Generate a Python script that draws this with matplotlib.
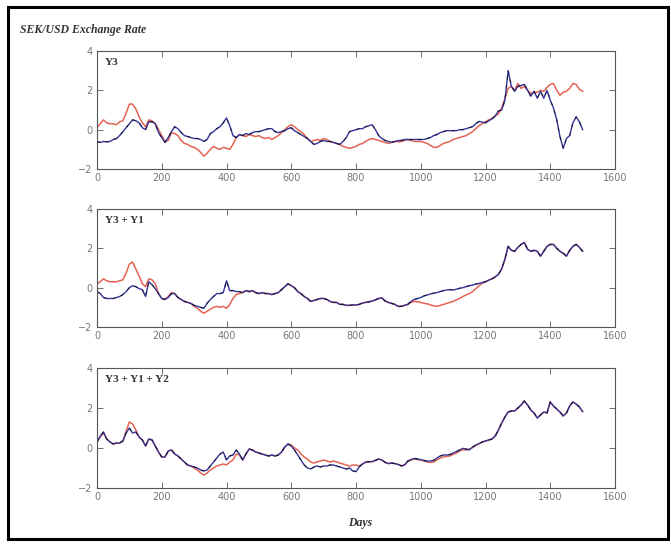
import numpy as np
import matplotlib
matplotlib.use("Agg")
from matplotlib import pyplot as plt
from matplotlib.patches import Rectangle

days = np.arange(0, 1501, 10)

# panel 1: Y3
y3_red = [0.1, 0.3, 0.5, 0.35, 0.3, 0.3, 0.25, 0.4, 0.45, 0.85,
          1.3, 1.3, 1.05, 0.65, 0.35, 0.15, 0.5, 0.45, 0.3, 0.0,
          -0.3, -0.6, -0.55, -0.15, -0.2, -0.3, -0.55, -0.7, -0.75, -0.85,
          -0.9, -1.0, -1.15, -1.35, -1.2, -1.0, -0.85, -0.95, -1.0, -0.9,
          -0.95, -1.0, -0.75, -0.4, -0.25, -0.3, -0.35, -0.25, -0.3, -0.35,
          -0.3, -0.4, -0.45, -0.4, -0.5, -0.4, -0.3, -0.15, 0.0, 0.15,
          0.25, 0.15, 0.0, -0.1, -0.25, -0.45, -0.6, -0.55, -0.5, -0.55,
          -0.45, -0.5, -0.6, -0.65, -0.7, -0.75, -0.85, -0.9, -0.95, -0.9,
          -0.85, -0.75, -0.7, -0.6, -0.5, -0.45, -0.5, -0.55, -0.6, -0.65,
          -0.7, -0.65, -0.6, -0.62, -0.6, -0.55, -0.5, -0.55, -0.6, -0.6,
          -0.6, -0.65, -0.7, -0.8, -0.9, -0.9, -0.8, -0.7, -0.65, -0.6,
          -0.5, -0.45, -0.4, -0.35, -0.3, -0.2, -0.1, 0.05, 0.2, 0.3,
          0.4, 0.5, 0.55, 0.7, 0.8, 1.1, 1.6, 2.1, 2.2, 2.0,
          2.35, 2.1, 2.2, 2.0, 1.85, 1.9, 1.9, 2.0, 1.95, 2.15,
          2.3, 2.35, 2.0, 1.75, 1.9, 1.95, 2.1, 2.35, 2.3, 2.05,
          1.95]
y3_blue = [-0.6, -0.65, -0.6, -0.62, -0.6, -0.5, -0.45, -0.3, -0.1, 0.1,
           0.3, 0.5, 0.45, 0.35, 0.1, 0.0, 0.4, 0.4, 0.3, -0.15,
           -0.4, -0.65, -0.4, -0.1, 0.15, 0.05, -0.15, -0.3, -0.35, -0.4,
           -0.45, -0.45, -0.5, -0.6, -0.5, -0.2, -0.1, 0.05, 0.15, 0.35,
           0.6, 0.2, -0.3, -0.4, -0.25, -0.3, -0.2, -0.25, -0.15, -0.1,
           -0.1, -0.05, 0.0, 0.05, 0.05, -0.1, -0.15, -0.1, -0.05, 0.05,
           0.1, -0.05, -0.15, -0.25, -0.35, -0.45, -0.6, -0.75, -0.7, -0.6,
           -0.55, -0.6, -0.6, -0.65, -0.7, -0.75, -0.6, -0.4, -0.1, -0.05,
           0.0, 0.05, 0.05, 0.15, 0.2, 0.25, 0.0, -0.3, -0.45, -0.55,
           -0.6, -0.65, -0.6, -0.55, -0.55, -0.5, -0.5, -0.5, -0.5, -0.5,
           -0.5, -0.5, -0.45, -0.4, -0.3, -0.25, -0.15, -0.1, -0.05, -0.05,
           -0.05, -0.05, 0.0, 0.0, 0.05, 0.1, 0.15, 0.3, 0.42, 0.38,
           0.35, 0.45, 0.55, 0.7, 0.95, 1.0, 1.5, 3.0, 2.2, 1.95,
           2.2, 2.25, 2.3, 2.0, 1.7, 1.95, 1.6, 1.95, 1.6, 2.0,
           1.5, 1.1, 0.5, -0.35, -0.95, -0.45, -0.3, 0.35, 0.65, 0.4,
           0.0]

# panel 2: Y3 + Y1
y31_red = [0.2, 0.3, 0.45, 0.35, 0.3, 0.3, 0.3, 0.35, 0.4, 0.75,
           1.2, 1.3, 0.95, 0.6, 0.2, 0.05, 0.45, 0.4, 0.2, -0.3,
           -0.55, -0.6, -0.45, -0.25, -0.3, -0.5, -0.6, -0.7, -0.75, -0.8,
           -0.95, -1.05, -1.2, -1.3, -1.2, -1.1, -1.0, -0.95, -1.0, -0.95,
           -1.05, -0.85, -0.55, -0.35, -0.3, -0.25, -0.15, -0.2, -0.15, -0.25,
           -0.3, -0.25, -0.3, -0.3, -0.35, -0.3, -0.25, -0.1, 0.05, 0.2,
           0.1, 0.0, -0.2, -0.3, -0.45, -0.55, -0.7, -0.65, -0.6, -0.55,
           -0.55, -0.6, -0.7, -0.75, -0.75, -0.85, -0.85, -0.9, -0.9, -0.88,
           -0.88, -0.85, -0.78, -0.75, -0.72, -0.68, -0.62, -0.55, -0.52, -0.68,
           -0.75, -0.8, -0.85, -0.95, -0.95, -0.9, -0.85, -0.75, -0.7, -0.72,
           -0.75, -0.8, -0.82, -0.88, -0.92, -0.95, -0.9, -0.85, -0.8, -0.75,
           -0.7, -0.62, -0.55, -0.45, -0.37, -0.3, -0.2, -0.05, 0.1, 0.22,
           0.3, 0.38, 0.45, 0.55, 0.68, 0.95, 1.45, 2.1, 1.9, 1.85,
           2.05, 2.2, 2.3, 1.95, 1.85, 1.9, 1.85, 1.6, 1.85, 2.1,
           2.2, 2.2, 2.0, 1.85, 1.75, 1.6, 1.9, 2.1, 2.2, 2.05,
           1.85]
y31_blue = [-0.2, -0.3, -0.5, -0.55, -0.55, -0.55, -0.5, -0.45, -0.35, -0.2,
            0.0, 0.1, 0.05, -0.05, -0.1, -0.45, 0.3, 0.15, -0.05, -0.3,
            -0.55, -0.6, -0.5, -0.3, -0.3, -0.5, -0.6, -0.7, -0.75, -0.8,
            -0.9, -0.95, -1.0, -1.05, -0.8, -0.6, -0.45, -0.3, -0.3, -0.25,
            0.35, -0.15, -0.15, -0.2, -0.2, -0.25, -0.15, -0.2, -0.15, -0.25,
            -0.3, -0.25, -0.3, -0.3, -0.35, -0.3, -0.25, -0.1, 0.05, 0.2,
            0.1, 0.0, -0.2, -0.3, -0.45, -0.55, -0.7, -0.65, -0.6, -0.55,
            -0.55, -0.6, -0.7, -0.75, -0.75, -0.85, -0.85, -0.9, -0.9, -0.88,
            -0.88, -0.85, -0.78, -0.75, -0.72, -0.68, -0.62, -0.55, -0.52, -0.68,
            -0.75, -0.8, -0.85, -0.95, -0.95, -0.9, -0.85, -0.7, -0.6, -0.55,
            -0.5, -0.42, -0.37, -0.32, -0.28, -0.25, -0.2, -0.15, -0.12, -0.1,
            -0.12, -0.08, -0.03, 0.0, 0.05, 0.1, 0.13, 0.18, 0.22, 0.26,
            0.3, 0.38, 0.45, 0.55, 0.68, 0.95, 1.45, 2.1, 1.9, 1.85,
            2.05, 2.2, 2.3, 1.95, 1.85, 1.9, 1.85, 1.6, 1.85, 2.1,
            2.2, 2.2, 2.0, 1.85, 1.75, 1.6, 1.9, 2.1, 2.2, 2.05,
            1.85]

# panel 3: Y3 + Y1 + Y2
y312_red = [0.3, 0.55, 0.75, 0.45, 0.3, 0.2, 0.25, 0.25, 0.35, 0.85,
            1.3, 1.2, 0.9, 0.55, 0.4, 0.1, 0.45, 0.4, 0.1, -0.2,
            -0.45, -0.45, -0.15, -0.1, -0.3, -0.4, -0.55, -0.7, -0.85, -0.9,
            -1.0, -1.1, -1.25, -1.35, -1.25, -1.1, -1.0, -0.9, -0.85, -0.8,
            -0.85, -0.7, -0.6, -0.3, -0.35, -0.6, -0.3, -0.05, -0.1, -0.2,
            -0.25, -0.3, -0.35, -0.4, -0.35, -0.4, -0.35, -0.2, 0.05, 0.2,
            0.15, 0.0, -0.1, -0.3, -0.45, -0.55, -0.7, -0.75, -0.7, -0.65,
            -0.6, -0.65, -0.7, -0.65, -0.7, -0.75, -0.8, -0.85, -0.9, -0.85,
            -0.85, -0.9, -0.8, -0.72, -0.7, -0.68, -0.62, -0.55, -0.6, -0.72,
            -0.78, -0.75, -0.78, -0.82, -0.88, -0.85, -0.68, -0.6, -0.55, -0.58,
            -0.6, -0.65, -0.7, -0.72, -0.7, -0.6, -0.5, -0.45, -0.42, -0.4,
            -0.32, -0.25, -0.15, -0.08, -0.1, -0.05, 0.02, 0.12, 0.22, 0.3,
            0.35, 0.4, 0.45, 0.6, 0.9, 1.25, 1.55, 1.8, 1.85, 1.85,
            2.0, 2.15, 2.35, 2.15, 1.9, 1.75, 1.5, 1.65, 1.8, 1.75,
            2.3, 2.1, 1.95, 1.8, 1.6, 1.75, 2.1, 2.3, 2.2, 2.05,
            1.82]
y312_blue = [0.3, 0.6, 0.8, 0.45, 0.3, 0.2, 0.25, 0.25, 0.35, 0.75,
             1.0, 0.75, 0.8, 0.55, 0.4, 0.1, 0.45, 0.4, 0.1, -0.2,
             -0.45, -0.45, -0.15, -0.1, -0.3, -0.4, -0.55, -0.7, -0.85, -0.9,
             -0.95, -1.0, -1.1, -1.15, -1.1, -0.9, -0.7, -0.5, -0.3, -0.2,
             -0.6, -0.4, -0.35, -0.1, -0.3, -0.6, -0.3, -0.05, -0.1, -0.2,
             -0.25, -0.3, -0.35, -0.4, -0.35, -0.4, -0.35, -0.2, 0.05, 0.2,
             0.1, -0.1, -0.35, -0.6, -0.85, -1.0, -1.05, -0.95, -0.9, -0.95,
             -0.9, -0.9, -0.85, -0.85, -0.9, -0.95, -1.0, -1.05, -1.0, -1.15,
             -1.18, -0.95, -0.8, -0.7, -0.68, -0.68, -0.62, -0.55, -0.6, -0.72,
             -0.78, -0.75, -0.78, -0.82, -0.9, -0.85, -0.65, -0.58, -0.52, -0.55,
             -0.58, -0.62, -0.66, -0.65, -0.62, -0.5, -0.4, -0.35, -0.35, -0.33,
             -0.25, -0.18, -0.1, -0.02, -0.05, -0.1, 0.05, 0.15, 0.22, 0.3,
             0.35, 0.4, 0.45, 0.6, 0.9, 1.25, 1.55, 1.8, 1.85, 1.85,
             2.0, 2.15, 2.35, 2.15, 1.9, 1.75, 1.5, 1.65, 1.8, 1.75,
             2.3, 2.1, 1.95, 1.8, 1.6, 1.75, 2.1, 2.3, 2.2, 2.05,
             1.82]

panel_labels = ["Y3", "Y3 + Y1", "Y3 + Y1 + Y2"]
panel_red = [y3_red, y31_red, y312_red]
panel_blue = [y3_blue, y31_blue, y312_blue]

W, H = 671, 544
fig = plt.figure(figsize=(W / 100, H / 100), dpi=100)

# black frame round the whole figure
fig.patches.append(Rectangle((8 / W, 5 / H), 660 / W, 532 / H, transform=fig.transFigure,
                             fill=False, edgecolor="black", linewidth=2.2))

fig.text(20 / W, 1 - 30 / H, "SEK/USD Exchange Rate", fontsize=8.5,
         family="Liberation Serif", weight="bold", style="italic", color="#333333", va="center")

boxes = [(51, 169), (209, 327), (368, 488)]
left, right = 97, 615
for i, (top, bot) in enumerate(boxes):
    ax = fig.add_axes([left / W, 1 - bot / H, (right - left) / W, (bot - top) / H])
    ax.plot(days, panel_red[i], color="#e0533f", lw=1.1, alpha=0.9)
    ax.plot(days, panel_blue[i], color="#34349a", lw=1.0)
    ax.plot(days, panel_blue[i], color="black", lw=0.8, dashes=(3, 5), alpha=0.6)
    ax.set_xlim(0, 1600)
    ax.set_ylim(-2, 4)
    ax.set_xticks(range(0, 1601, 200))
    ax.set_yticks([-2, 0, 2, 4])
    ax.tick_params(direction="in", top=True, right=True, length=4, width=0.6,
                   labelsize=7, labelcolor="#777777", color="#555555", pad=3)
    for s in ax.spines.values():
        s.set_color("#555555")
        s.set_linewidth(0.8)
    ax.text(0.015, 0.9, panel_labels[i], transform=ax.transAxes, fontsize=8,
            family="Liberation Serif", weight="bold", color="#333333", va="center")

fig.text(360 / W, 1 - 523 / H, "Days", fontsize=8.5, family="Liberation Serif",
         weight="bold", style="italic", color="#333333", ha="center", va="center")

fig.savefig("out.png", dpi=100)
